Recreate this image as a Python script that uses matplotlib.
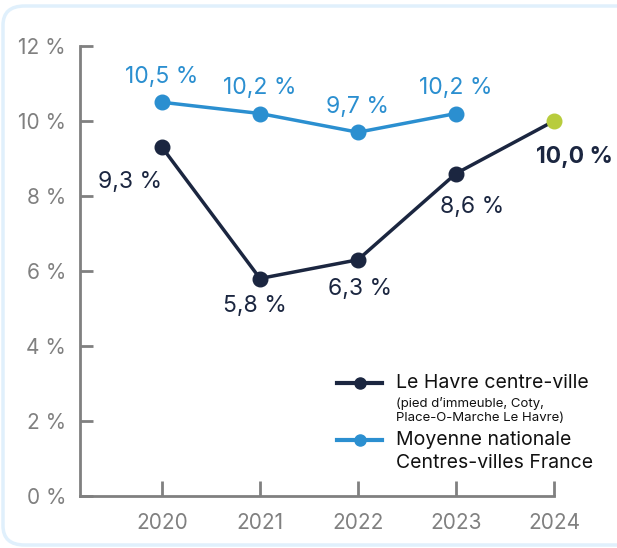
import matplotlib
matplotlib.use("Agg")
import matplotlib.pyplot as plt
from matplotlib.patches import FancyBboxPatch
from matplotlib.lines import Line2D

years = [2020, 2021, 2022, 2023, 2024]
havre_years = [2020, 2021, 2022, 2023]
havre_values = [9.3, 5.8, 6.3, 8.6]
havre_2024 = 10.0
national_years = [2020, 2021, 2022, 2023]
national_values = [10.5, 10.2, 9.7, 10.2]
yticks = [0, 2, 4, 6, 8, 10, 12]
ytick_labels = ["0 %", "2 %", "4 %", "6 %", "8 %", "10 %", "12 %"]
havre_labels = ["9,3 %", "5,8 %", "6,3 %", "8,6 %"]
national_labels = ["10,5 %", "10,2 %", "9,7 %", "10,2 %"]
label_2024 = "10,0 %"

plt.rcParams['font.family'] = ['Inter', 'DejaVu Sans']

NAVY = "#1b2640"
BLUE = "#2b8fd0"
GREEN = "#b8cc3c"
GRAY = "#808080"
TXT = "#1b2640"

W, H = 617, 548
fig = plt.figure(figsize=(W / 100, H / 100), dpi=100)

# card border
card = FancyBboxPatch((3 / W, 3 / H), (W + 30) / W, (H - 9) / H,
                      boxstyle="round,pad=0,rounding_size=0.035",
                      transform=fig.transFigure, facecolor="none",
                      edgecolor="#e0f0fc", linewidth=2.5, zorder=-5)
fig.patches.append(card)

ax = fig.add_axes([80 / W, 1 - 496 / H, (554 - 80) / W, (496 - 46) / H])
ax.set_facecolor("none")
x0 = 2020 - 82 / 98
ax.set_xlim(x0, 2024)
ax.set_ylim(0, 12)

for s in ["top", "right"]:
    ax.spines[s].set_visible(False)
for s in ["left", "bottom"]:
    ax.spines[s].set_color(GRAY)
    ax.spines[s].set_linewidth(2)

ax.set_yticks(yticks)
ax.set_yticklabels(ytick_labels)
ax.set_xticks(years)
ax.set_xticklabels([str(y) for y in years])
ax.tick_params(axis="y", direction="in", length=9, width=2, color=GRAY,
               labelcolor=GRAY, labelsize=15, pad=10)
ax.tick_params(axis="x", direction="in", length=11, width=2, color=GRAY,
               labelcolor=GRAY, labelsize=15, pad=12)

# national line
ax.plot(national_years, national_values, color=BLUE, lw=2.5, marker="o",
        ms=10.5, zorder=3, clip_on=False)
for x, y, t in zip(national_years, national_values, national_labels):
    ax.annotate(t, (x, y), xytext=(0, 18), textcoords="offset points",
                ha="center", va="center", color=BLUE, fontsize=16.5)

# Le Havre line
hx = havre_years + [2024]
hy = havre_values + [havre_2024]
ax.plot(hx, hy, color=NAVY, lw=2.5, zorder=3, clip_on=False)
ax.plot(havre_years, havre_values, color=NAVY, lw=0, marker="o", ms=10.5,
        zorder=4, clip_on=False)
ax.plot([2024], [havre_2024], color=GREEN, lw=0, marker="o", ms=10.5,
        zorder=4, clip_on=False)

offsets = [(-23, -25), (-3.6, -20), (1.5, -21), (11.5, -24)]
for (x, y, t), (dx, dy) in zip(zip(havre_years, havre_values, havre_labels), offsets):
    ax.annotate(t, (x, y), xytext=(dx, dy), textcoords="offset points",
                ha="center", va="center", color=TXT, fontsize=16.5)
ax.annotate(label_2024, (2024, havre_2024), xytext=(15, -26),
            textcoords="offset points", ha="center", va="center",
            color=TXT, fontsize=16.5, fontweight="bold", annotation_clip=False)

# legend (manual)
def fx(px):
    return px / W

def fy(py):
    return 1 - py / H

for ly, col in [(383, NAVY), (440, BLUE)]:
    fig.add_artist(Line2D([fx(337), fx(382)], [fy(ly), fy(ly)],
                          color=col, lw=3, transform=fig.transFigure))
    fig.add_artist(Line2D([fx(360)], [fy(ly)], color=col, marker="o", ms=8,
                          lw=0, transform=fig.transFigure))

fig.text(fx(396), fy(383), "Le Havre centre-ville", fontsize=14, color="#111111",
         va="center", ha="left")
fig.text(fx(396), fy(403), "(pied d\u2019immeuble, Coty,", fontsize=9.5, color="#111111",
         va="center", ha="left")
fig.text(fx(396), fy(418), "Place-O-Marche Le Havre)", fontsize=9.5, color="#111111",
         va="center", ha="left")
fig.text(fx(396), fy(440), "Moyenne nationale", fontsize=14, color="#111111",
         va="center", ha="left")
fig.text(fx(396), fy(463), "Centres-villes France", fontsize=14, color="#111111",
         va="center", ha="left")

fig.savefig("out.png", dpi=100)
